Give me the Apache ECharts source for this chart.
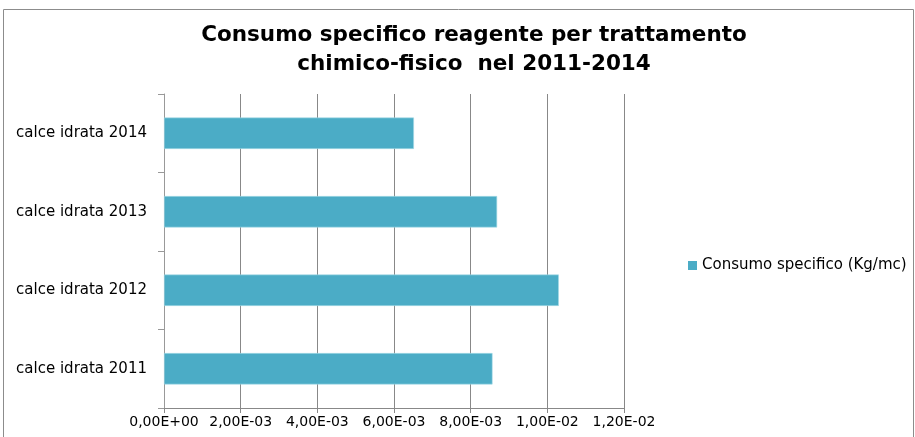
<!DOCTYPE html>
<html><head><meta charset="utf-8">
<script src="https://cdn.jsdelivr.net/npm/echarts@6/dist/echarts.min.js"></script>
<style>html,body{margin:0;padding:0;background:#fff}#c{width:915px;height:437px}</style>
</head><body><div id="c"></div>
<script>
const categories = ['calce idrata 2011','calce idrata 2012','calce idrata 2013','calce idrata 2014'];
const values = [0.00857, 0.0103, 0.00869, 0.00652];
const seriesName = 'Consumo specifico (Kg/mc)';
const xTickLabels = ['0,00E+00','2,00E-03','4,00E-03','6,00E-03','8,00E-03','1,00E-02','1,20E-02'];
const titleText = 'Consumo specifico reagente per trattamento\nchimico-fisico  nel 2011-2014';

const FONT = '"DejaVu Sans", sans-serif';
const chart = echarts.init(document.getElementById('c'));
chart.setOption({
  animation: false,
  textStyle: {fontFamily: FONT},
  graphic: [{type:'rect', shape:{x:3.5,y:9.5,width:910,height:440}, style:{fill:'none', stroke:'#8c8c8c', lineWidth:1}, silent:true}],
  title: {text: titleText, left: 469, textAlign: 'center', top: 16,
    textStyle: {fontFamily: FONT, fontWeight:'bold', fontSize:21.5, lineHeight:29, color:'#000'}},
  legend: {data:[seriesName], left: 683, top: 253, itemWidth: 9, itemHeight: 9, itemGap: 5,
    icon: 'rect', itemStyle:{borderWidth:0},
    textStyle: {fontSize: 15, color:'#000', fontFamily: FONT}},
  grid: {left: 164, right: 291, top: 94, bottom: 29, containLabel: false},
  xAxis: {type:'value', min:0, max:0.012, interval:0.002,
    axisLine:{show:true, lineStyle:{color:'#888'}},
    axisTick:{show:true, length:5, lineStyle:{color:'#888'}},
    splitLine:{show:true, lineStyle:{color:'#888', width:1}},
    axisLabel:{color:'#000', fontSize:14, margin:7,
      formatter: (v)=> xTickLabels[Math.round(v/0.002)]}},
  yAxis: {type:'category', data: categories,
    axisLine:{show:true, lineStyle:{color:'#999'}},
    axisTick:{show:true, length:6, lineStyle:{color:'#999'}},
    axisLabel:{color:'#000', fontSize:15, margin:17}},
  series: [{type:'bar', name: seriesName, data: values, barCategoryGap:'60%',
    itemStyle:{color:'#4BACC6', borderColor:'#a8dbe8', borderWidth:0.6}}]
});
</script></body></html>
